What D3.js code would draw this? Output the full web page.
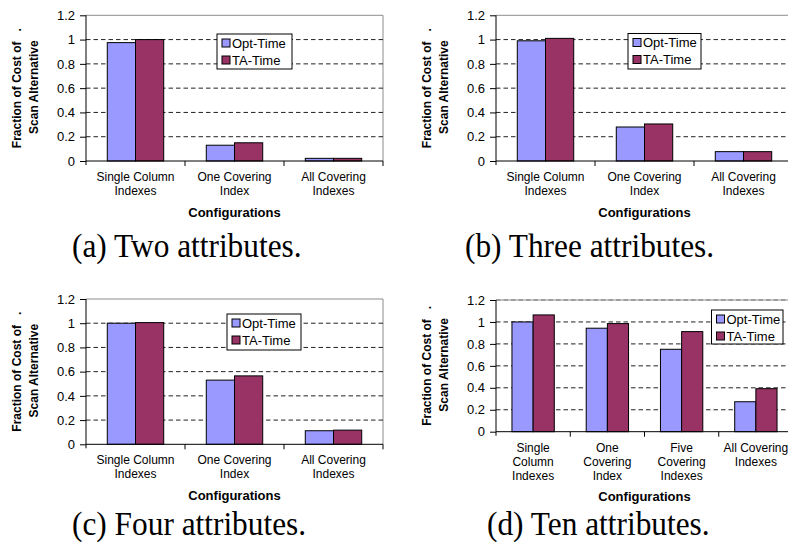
<!DOCTYPE html>
<html>
<head>
<meta charset="utf-8">
<script src="https://cdn.jsdelivr.net/npm/d3@7"></script>
<style>
  html, body { margin: 0; padding: 0; background: #fff; }
  svg { display: block; }
  text { font-family: "Liberation Sans", Arial, sans-serif; fill: #000; }
  .cap { font-family: "Liberation Serif", "Times New Roman", serif; }
</style>
</head>
<body>
<svg id="chart" width="788" height="542"></svg>
<script>
// ---------- data ----------
const seriesNames = ["Opt-Time", "TA-Time"];
const categories3 = [["Single Column", "Indexes"], ["One Covering", "Index"], ["All Covering", "Indexes"]];
const categories4 = [["Single", "Column", "Indexes"], ["One", "Covering", "Index"], ["Five", "Covering", "Indexes"], ["All Covering", "Indexes"]];
const yTicks = [0, 0.2, 0.4, 0.6, 0.8, 1, 1.2];
const yTickLabels = ["0", "0.2", "0.4", "0.6", "0.8", "1", "1.2"];

const optTwo   = [0.975, 0.13, 0.022];
const taTwo    = [1.0,   0.15, 0.022];
const optThree = [0.99,  0.28, 0.077];
const taThree  = [1.01,  0.305, 0.077];
const optFour  = [1.0,   0.53, 0.112];
const taFour   = [1.005, 0.565, 0.117];
const optTen   = [1.0,   0.943, 0.751, 0.273];
const taTen    = [1.064, 0.985, 0.912, 0.392];

const captions = ["(a) Two attributes.", "(b) Three attributes.", "(c) Four attributes.", "(d) Ten attributes."];
const xTitle = "Configurations";
const yTitle1 = "Fraction of Cost of   .";
const yTitle2 = "Scan Alternative";

const colors = ["#9999FF", "#993366"];

// ---------- layout ----------
const panels = [
  { cats: categories3, vals: [optTwo, taTwo], x0: 86, x1: 383, yTop: 15.3, yBot: 161,
    legend: { x: 217, y: 34, w: 75, h: 35 }, ylab: [21, 37.6], cap: { x: 72, y: 257 }, topGrid: false },
  { cats: categories3, vals: [optThree, taThree], x0: 496, x1: 793, yTop: 15.3, yBot: 161,
    legend: { x: 628, y: 33.5, w: 73, h: 35.5 }, ylab: [431, 447.6], cap: { x: 465, y: 257 }, topGrid: false },
  { cats: categories3, vals: [optFour, taFour], x0: 86, x1: 383, yTop: 299, yBot: 444.3,
    legend: { x: 227, y: 314, w: 74, h: 36 }, ylab: [21, 37.6], cap: { x: 72, y: 535 }, topGrid: false },
  { cats: categories4, vals: [optTen, taTen], x0: 496, x1: 793, yTop: 300, yBot: 431.7,
    legend: { x: 711.5, y: 310, w: 71.5, h: 34 }, ylab: [431, 447.6], cap: { x: 487, y: 535 }, topGrid: true }
];

const svg = d3.select("#chart");

panels.forEach((p, pi) => {
  const g = svg.append("g");
  const catIdx = p.cats.map((c, i) => i);
  const x = d3.scaleBand().domain(catIdx).range([p.x0, p.x1]).paddingInner(0).paddingOuter(0);
  const bw = x.bandwidth();
  const xs = d3.scaleBand().domain(seriesNames).range([bw * 0.215, bw * 0.785]);
  const y = d3.scaleLinear().domain([0, 1.2]).range([p.yBot, p.yTop]);

  // plot border (gray) top & right
  g.append("line").attr("x1", p.x0).attr("x2", p.x1).attr("y1", y(1.2)).attr("y2", y(1.2))
    .attr("stroke", "#8c8c8c").attr("stroke-width", 1);
  g.append("line").attr("x1", p.x1).attr("x2", p.x1).attr("y1", y(1.2)).attr("y2", y(0))
    .attr("stroke", "#8c8c8c").attr("stroke-width", 1);

  // gridlines
  const gridVals = yTicks.filter(v => v > 0 && (p.topGrid || v < 1.2));
  g.selectAll(".grid").data(gridVals).join("line")
    .attr("x1", p.x0).attr("x2", p.x1)
    .attr("y1", d => y(d)).attr("y2", d => y(d))
    .attr("stroke", d => d === 1.2 ? "#777" : "#222").attr("stroke-width", 1).attr("stroke-dasharray", "4.5,3");

  // bars
  seriesNames.forEach((s, si) => {
    g.selectAll(".bar" + si).data(p.vals[si]).join("rect")
      .attr("x", (d, i) => x(i) + xs(s))
      .attr("y", d => y(d))
      .attr("width", xs.bandwidth())
      .attr("height", d => y(0) - y(d))
      .attr("fill", colors[si]).attr("stroke", "#000").attr("stroke-width", 1);
  });

  // y axis
  const yAxis = d3.axisLeft(y).tickValues(yTicks).tickSize(6).tickPadding(5)
    .tickFormat((d, i) => yTickLabels[i]);
  const ya = g.append("g").attr("transform", `translate(${p.x0},0)`).call(yAxis);
  ya.select(".domain").remove();
  ya.selectAll(".tick line").attr("stroke", "#000");
  ya.selectAll(".tick text").style("font-size", "13px").style("font-family", '"Liberation Sans", Arial, sans-serif').attr("fill", "#000");
  g.append("line").attr("x1", p.x0).attr("x2", p.x0).attr("y1", y(1.2)).attr("y2", y(0) + 4)
    .attr("stroke", "#000").attr("stroke-width", 1);

  // x axis
  g.append("line").attr("x1", p.x0).attr("x2", p.x1).attr("y1", y(0)).attr("y2", y(0))
    .attr("stroke", "#000").attr("stroke-width", 1);
  const bounds = catIdx.map(i => x(i) + bw);
  g.selectAll(".xt").data(bounds).join("line")
    .attr("x1", d => d).attr("x2", d => d).attr("y1", y(0)).attr("y2", y(0) + 5)
    .attr("stroke", "#000").attr("stroke-width", 1);

  // category labels
  p.cats.forEach((lines, i) => {
    const t = g.append("text").attr("text-anchor", "middle").style("font-size", "12px");
    lines.forEach((ln, li) => {
      t.append("tspan").attr("x", x(i) + bw / 2).attr("y", y(0) + 20 + li * 14).text(ln);
    });
  });
  const nLines = d3.max(p.cats, c => c.length);
  g.append("text").attr("text-anchor", "middle")
    .attr("x", (p.x0 + p.x1) / 2)
    .attr("y", y(0) + 20 + (nLines - 1) * 14 + 21.5)
    .style("font-size", "13px").style("font-weight", "bold").text(xTitle);

  // y title
  const yc = (y(0) + y(1.2)) / 2;
  g.append("text").attr("text-anchor", "middle").style("font-size", "12px").style("font-weight", "bold")
    .style("white-space", "pre").attr("xml:space", "preserve")
    .attr("transform", `translate(${p.ylab[0]},${yc}) rotate(-90)`).text(yTitle1);
  g.append("text").attr("text-anchor", "middle").style("font-size", "12px").style("font-weight", "bold")
    .attr("transform", `translate(${p.ylab[1]},${yc - 1}) rotate(-90)`).text(yTitle2);

  // legend
  const L = p.legend;
  const lg = g.append("g");
  lg.append("rect").attr("x", L.x).attr("y", L.y).attr("width", L.w).attr("height", L.h)
    .attr("fill", "#fff").attr("stroke", "#000").attr("stroke-width", 1);
  seriesNames.forEach((s, si) => {
    const cy = L.y + 9 + si * 17;
    lg.append("rect").attr("x", L.x + 5).attr("y", cy - 4).attr("width", 8).attr("height", 8)
      .attr("fill", colors[si]).attr("stroke", "#000").attr("stroke-width", 1);
    lg.append("text").attr("x", L.x + 15).attr("y", cy + 4.5).style("font-size", "13px").text(s);
  });

  // caption
  svg.append("text").attr("class", "cap")
    .attr("transform", `translate(${p.cap.x},${p.cap.y}) scale(0.95,1)`)
    .style("font-size", "33px").text(captions[pi]);
});
</script>
</body>
</html>
